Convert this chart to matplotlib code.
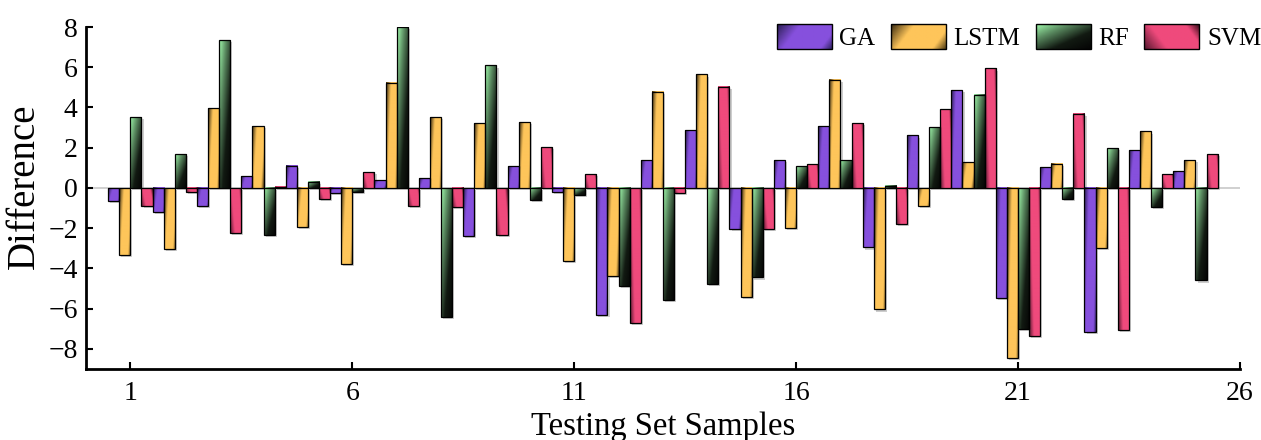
import numpy as np
import matplotlib.pyplot as plt
from matplotlib.colors import LinearSegmentedColormap
from matplotlib.patches import Rectangle
from matplotlib.image import BboxImage
from matplotlib.transforms import Bbox, TransformedBbox
from matplotlib.legend_handler import HandlerBase
import matplotlib.patheffects as pe

plt.rcParams['font.family'] = ['Liberation Serif', 'DejaVu Serif']

# Differences per testing sample (samples 1..25)
samples = np.arange(1, 26)
ga = [-0.63, -1.21, -0.91, 0.58, 1.11, -0.26, 0.38, 0.48, -2.38, 1.08,
      -0.21, -6.33, 1.37, 2.88, -2.03, 1.37, 3.06, -2.96, 2.61, 4.86,
      -5.47, 1.04, -7.16, 1.87, 0.84]
lstm = [-3.31, -3.03, 3.95, 3.06, -1.95, -3.80, 5.24, 3.51, 3.22, 3.26,
        -3.65, -4.38, 4.79, 5.64, -5.42, -2.00, 5.39, -6.04, -0.89, 1.27,
        -8.47, 1.21, -2.99, 2.81, 1.37]
rf = [3.51, 1.67, 7.34, -2.36, 0.31, -0.18, 8.00, -6.41, 6.09, -0.60,
      -0.33, -4.89, -5.59, -4.76, -4.45, 1.08, 1.37, 0.12, 3.03, 4.63,
      -6.99, -0.55, 1.97, -0.93, -4.60]
svm = [-0.88, -0.21, -2.23, 0.07, -0.56, 0.78, -0.88, -0.96, -2.32, 2.02,
       0.69, -6.71, -0.26, 5.04, -2.03, 1.18, 3.21, -1.80, 3.90, 5.94,
       -7.36, 3.70, -7.08, 0.69, 1.67]
names = ['GA', 'LSTM', 'RF', 'SVM']
series = [ga, lstm, rf, svm]

# gradient colour stops, horizontal weight, vertical flip
styles = {
    'GA': ([(0, '#2c1f55'), (0.32, '#8650dd'), (0.85, '#8650dd'), (1, '#34256a')], 0.75, False),
    'LSTM': ([(0, '#3e2e12'), (0.32, '#fec55a'), (0.82, '#fec55a'), (1, '#5a4418')], 0.75, False),
    'RF': ([(0, '#9ef7aa'), (0.3, '#5a8a60'), (0.65, '#121a12'), (1, '#050505')], 0.5, False),
    'SVM': ([(0, '#5a1830'), (0.32, '#ef4a7c'), (0.82, '#ef4a7c'), (1, '#44101f')], 0.75, True),
}
cmaps = {k: LinearSegmentedColormap.from_list(k, v[0]) for k, v in styles.items()}


def gradient(name, nx=24, ny=24):
    w, flip = styles[name][1], styles[name][2]
    u = np.linspace(0, 1, nx)[None, :]
    r = np.linspace(0, 1, ny)[:, None]
    if flip:
        r = 1 - r
    return w * u + (1 - w) * r


class GradientHandler(HandlerBase):
    def create_artists(self, legend, orig_handle, xdescent, ydescent,
                       width, height, fontsize, trans):
        name = orig_handle.get_label()
        bb = TransformedBbox(Bbox.from_bounds(-xdescent, -ydescent, width, height), trans)
        img = BboxImage(bb, cmap=cmaps[name], interpolation='bilinear', norm=plt.Normalize(0, 1))
        img.set_data(gradient(name, 40, 20))
        rect = Rectangle((-xdescent, -ydescent), width, height, facecolor='none',
                         edgecolor='black', linewidth=1.0, transform=trans)
        return [img, rect]


fig = plt.figure(figsize=(12.61, 4.40), dpi=100)
ax = fig.add_axes([0.0682, 0.1614, 0.915, 0.7772])

width = 0.25
offsets = [-1.5, -0.5, 0.5, 1.5]
handles = []
for name, vals, off in zip(names, series, offsets):
    x = samples + off * width
    # soft drop shadow
    ax.bar(x, vals, width, facecolor='none', edgecolor='none', zorder=1,
           path_effects=[pe.SimplePatchShadow(offset=(1.5, -1.5), shadow_rgbFace='#909090', alpha=0.45)])
    bars = ax.bar(x, vals, width, facecolor='none', edgecolor='black',
                  linewidth=0.9, zorder=3, label=name)
    for p in bars.patches:
        x0, y0 = p.get_x(), p.get_y()
        h = p.get_height()
        ylo, yhi = min(y0, y0 + h), max(y0, y0 + h)
        ax.imshow(gradient(name), cmap=cmaps[name], vmin=0, vmax=1,
                  extent=[x0, x0 + p.get_width(), ylo, yhi], origin='upper',
                  aspect='auto', interpolation='bilinear', clip_path=p, zorder=2)
    handles.append(Rectangle((0, 0), 1, 1, label=name))

ax.axhline(0, color='#c8c8c8', linewidth=1.2, zorder=0.5)

ax.set_xlim(0, 26)
ax.set_ylim(-9, 8)
ax.set_xticks([1, 6, 11, 16, 21, 26])
ax.set_yticks(np.arange(-8, 9, 2))
ax.spines['top'].set_visible(False)
ax.spines['right'].set_visible(False)
ax.spines['left'].set_linewidth(2)
ax.spines['bottom'].set_linewidth(2)
ax.tick_params(direction='in', length=5, width=1.5, labelsize=20)
ax.tick_params(axis='x', pad=9)
ax.tick_params(axis='y', pad=6)
ax.set_xlabel('Testing Set Samples', fontsize=23.5)
ax.xaxis.set_label_coords(0.5, -0.125)
ax.set_ylabel('Difference', fontsize=28)
ax.yaxis.set_label_coords(-0.037, 0.535)

ax.legend(handles=handles, handler_map={Rectangle: GradientHandler()},
          loc='upper right', bbox_to_anchor=(1.016, 0.99), bbox_transform=fig.transFigure,
          ncol=4, frameon=False, fontsize=18, handlelength=2.2, handleheight=1.15,
          handletextpad=0.3, columnspacing=0.62, borderaxespad=0.4)

fig.savefig('out.png', dpi=100)
